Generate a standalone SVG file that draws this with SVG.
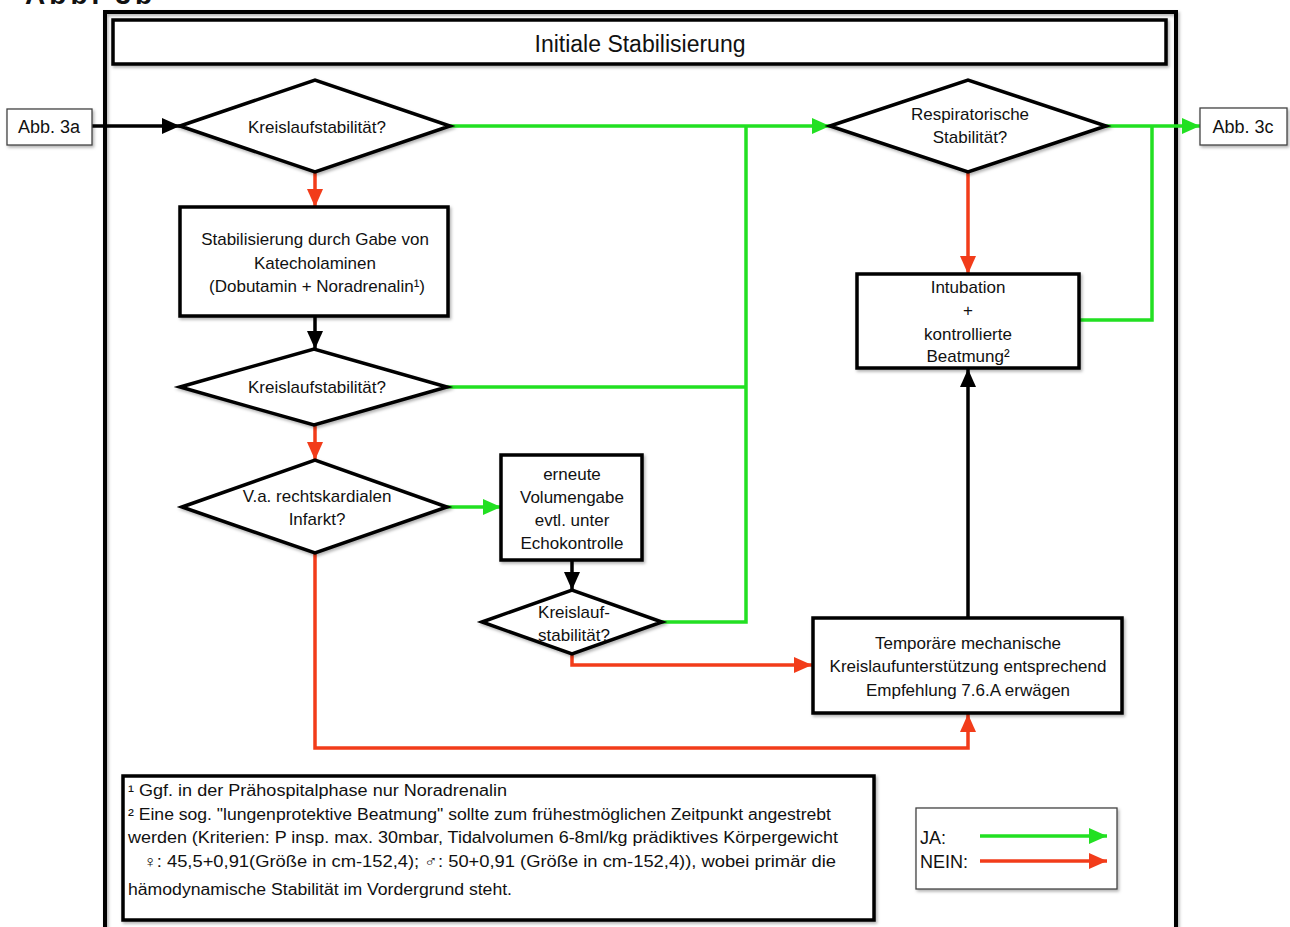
<svg xmlns="http://www.w3.org/2000/svg" width="1290" height="927" viewBox="0 0 1290 927">
<defs>
<style>
text{font-family:"Liberation Sans","DejaVu Sans",sans-serif;fill:#111;font-size:17px}
.c{text-anchor:middle}
.fn{font-size:16px}
.node{fill:#fff;stroke:#000;stroke-width:3.5;stroke-linejoin:miter}
.thin{fill:#fff;stroke:#444;stroke-width:1.3}
.k{fill:none;stroke:#000;stroke-width:3.5}
.g{fill:none;stroke:#22e022;stroke-width:3.5}
.r{fill:none;stroke:#f23c1a;stroke-width:3.5}
</style>
<marker id="ak" markerUnits="userSpaceOnUse" markerWidth="18" markerHeight="16" refX="18" refY="8" orient="auto"><path d="M0,0 L18,8 L0,16 z" fill="#000"/></marker>
<marker id="ag" markerUnits="userSpaceOnUse" markerWidth="18" markerHeight="16" refX="18" refY="8" orient="auto"><path d="M0,0 L18,8 L0,16 z" fill="#22e022"/></marker>
<marker id="ar" markerUnits="userSpaceOnUse" markerWidth="18" markerHeight="16" refX="18" refY="8" orient="auto"><path d="M0,0 L18,8 L0,16 z" fill="#f23c1a"/></marker>
<filter id="sh" x="-10%" y="-10%" width="130%" height="130%"><feDropShadow dx="1.5" dy="2" stdDeviation="1.5" flood-color="#000" flood-opacity="0.3"/></filter>
</defs>
<rect width="1290" height="927" fill="#fff"/>
<text x="25" y="4" style="font-size:28px;font-weight:bold" textLength="127">Abb. 3b</text>

<g id="frame"><rect x="105" y="12" width="1071" height="940" fill="none" stroke="#000" stroke-width="4" filter="url(#sh)"/></g>
<g id="title"><rect x="113" y="20" width="1053" height="44" class="node" stroke-width="3" filter="url(#sh)"/><text x="640" y="52" class="c" style="font-size:23px">Initiale Stabilisierung</text></g>

<g id="connectors">
<path class="k" d="M92,126 H180" marker-end="url(#ak)"/>
<path class="g" d="M450,126 H830" marker-end="url(#ag)"/>
<path class="g" d="M447,387 H746"/>
<path class="g" d="M662,622 H746 V126"/>
<path class="g" d="M1106,126 H1200" marker-end="url(#ag)"/>
<path class="g" d="M1079,320 H1152 V126"/>
<path class="r" d="M315,172 V207" marker-end="url(#ar)"/>
<path class="k" d="M315,316 V349" marker-end="url(#ak)"/>
<path class="r" d="M315,425 V460" marker-end="url(#ar)"/>
<path class="g" d="M447,507 H501" marker-end="url(#ag)"/>
<path class="k" d="M572,560 V590" marker-end="url(#ak)"/>
<path class="r" d="M572,654 V665 H812" marker-end="url(#ar)"/>
<path class="r" d="M315,553 V748 H968 V714" marker-end="url(#ar)"/>
<path class="k" d="M968,618 V369" marker-end="url(#ak)"/>
<path class="r" d="M968,172 V274" marker-end="url(#ar)"/>
</g>

<g id="abb3a"><rect x="7" y="109" width="85" height="36" class="thin" filter="url(#sh)"/><text x="49" y="133" class="c" style="font-size:18px">Abb. 3a</text></g>
<g id="abb3c"><rect x="1200" y="108" width="87" height="37" class="thin" filter="url(#sh)"/><text x="1243" y="133" class="c" style="font-size:18px">Abb. 3c</text></g>

<g id="d1"><polygon points="180,126 315,80 450,126 315,172" class="node" filter="url(#sh)"/><text x="317" y="133" class="c">Kreislaufstabilität?</text></g>
<g id="resp"><polygon points="830,126 968,80 1106,126 968,172" class="node" filter="url(#sh)"/><text x="970" y="120" class="c">Respiratorische</text><text x="970" y="143" class="c">Stabilität?</text></g>
<g id="stab"><rect x="180" y="207" width="268" height="109" class="node" filter="url(#sh)"/><text x="315" y="245" class="c">Stabilisierung durch Gabe von</text><text x="315" y="269" class="c">Katecholaminen</text><text x="317" y="292" class="c">(Dobutamin + Noradrenalin¹)</text></g>
<g id="d3"><polygon points="180,387 314,349 447,387 314,425" class="node" filter="url(#sh)"/><text x="317" y="393" class="c">Kreislaufstabilität?</text></g>
<g id="d4"><polygon points="182,507 315,460 447,507 315,553" class="node" filter="url(#sh)"/><text x="317" y="502" class="c">V.a. rechtskardialen</text><text x="317" y="525" class="c">Infarkt?</text></g>
<g id="erneut"><rect x="501" y="455" width="141" height="105" class="node" filter="url(#sh)"/><text x="572" y="480" class="c">erneute</text><text x="572" y="503" class="c">Volumengabe</text><text x="572" y="526" class="c">evtl. unter</text><text x="572" y="549" class="c">Echokontrolle</text></g>
<g id="d5"><polygon points="482,622 572,590 662,622 572,654" class="node" filter="url(#sh)"/><text x="574" y="618" class="c">Kreislauf-</text><text x="574" y="641" class="c">stabilität?</text></g>
<g id="intub"><rect x="857" y="274" width="222" height="94" class="node" filter="url(#sh)"/><text x="968" y="293" class="c">Intubation</text><text x="968" y="316" class="c">+</text><text x="968" y="340" class="c">kontrollierte</text><text x="968" y="362" class="c">Beatmung²</text></g>
<g id="temp"><rect x="813" y="618" width="309" height="95" class="node" filter="url(#sh)"/><text x="968" y="649" class="c">Temporäre mechanische</text><text x="968" y="672" class="c">Kreislaufunterstützung entsprechend</text><text x="968" y="696" class="c">Empfehlung 7.6.A erwägen</text></g>

<g id="footnotes"><rect x="123" y="776" width="751" height="144" class="node" stroke-width="3" filter="url(#sh)"/>
<text class="fn" x="128" y="796" textLength="379" lengthAdjust="spacingAndGlyphs">¹ Ggf. in der Prähospitalphase nur Noradrenalin</text>
<text class="fn" x="128" y="820" textLength="703" lengthAdjust="spacingAndGlyphs">² Eine sog. "lungenprotektive Beatmung" sollte zum frühestmöglichen Zeitpunkt angestrebt</text>
<text class="fn" x="128" y="843" textLength="710" lengthAdjust="spacingAndGlyphs">werden (Kriterien: P insp. max. 30mbar, Tidalvolumen 6-8ml/kg prädiktives Körpergewicht</text>
<text class="fn" x="143" y="867" textLength="693" lengthAdjust="spacingAndGlyphs">♀: 45,5+0,91(Größe in cm-152,4);  ♂: 50+0,91 (Größe in cm-152,4)), wobei primär die</text>
<text class="fn" x="128" y="895" textLength="384" lengthAdjust="spacingAndGlyphs">hämodynamische Stabilität im Vordergrund steht.</text>
</g>

<g id="legend"><rect x="916" y="808" width="201" height="81" class="thin" filter="url(#sh)"/>
<text x="920" y="844" style="font-size:18px">JA:</text><text x="920" y="868" style="font-size:18px">NEIN:</text>
<path class="g" d="M980,836 H1107" marker-end="url(#ag)"/>
<path class="r" d="M980,861 H1107" marker-end="url(#ar)"/>
</g>
</svg>
